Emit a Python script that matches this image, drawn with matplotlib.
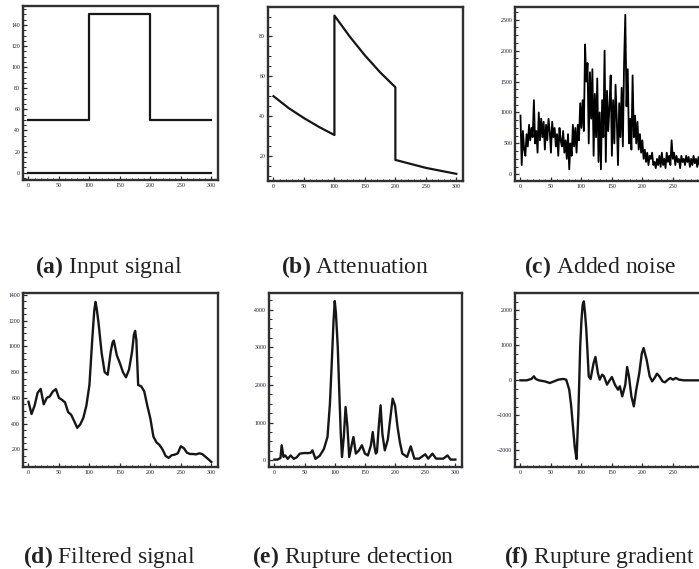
import matplotlib
matplotlib.use("Agg")
import matplotlib.pyplot as plt
from matplotlib.ticker import AutoMinorLocator, FixedLocator

# ---------------- data ----------------
x_ticks = [0, 50, 100, 150, 200, 250, 300]

# (a) input signal
a_pulse_x = [0, 100, 100, 200, 200, 300]
a_pulse_y = [50, 50, 150, 150, 50, 50]
a_base_x = [0, 300]
a_base_y = [0, 0]
a_yticks = [0, 20, 40, 60, 80, 100, 120, 140]

# (b) attenuation
b_x = [0, 25, 50, 75, 100, 100, 125, 150, 175, 200, 200, 225, 250, 275, 300]
b_y = [50, 44, 39, 34.5, 30.5, 90.5, 80, 70.5, 62, 54.5, 18, 16, 14, 12.5, 11]
b_yticks = [20, 40, 60, 80]

# (c) added noise (x = 0, 2, 4, ..., 300)
c_x = list(range(0, 301, 2))
c_y = [950, 150, 700, 400, 300, 650, 450, 800, 550, 750,
       600, 1200, 500, 700, 350, 1000, 550, 900, 600, 850,
       400, 800, 550, 900, 700, 350, 850, 600, 750, 450,
       650, 300, 750, 550, 450, 700, 350, 550, 250, 650,
       80, 500, 300, 800, 450, 750, 350, 800, 550, 1150,
       750, 1200, 700, 2100, 1500, 1800, 500, 1650, 900, 1700,
       300, 1300, 600, 1550, 200, 1000, 80, 1200, 600, 2000,
       200, 1350, 700, 1100, 1600, 300, 1200, 500, 1450, 900,
       150, 1150, 600, 1400, 450, 1800, 2580, 1100, 1700, 500,
       900, 400, 1600, 600, 950, 500, 850, 400, 650, 350,
       550, 250, 400, 200, 350, 150, 300, 250, 350, 150,
       200, 100, 250, 150, 300, 120, 350, 150, 250, 100,
       350, 200, 300, 150, 550, 250, 350, 150, 300, 200,
       250, 100, 300, 200, 250, 150, 300, 200, 280, 120,
       250, 150, 300, 180, 250, 120, 280, 150, 250, 120,
       200]
c_yticks = [0, 500, 1000, 1500, 2000, 2500]

# (d) filtered signal
d_x = [0, 5, 10, 15, 20, 25, 30, 35, 40, 45, 50, 55, 60, 65, 70, 75, 80, 85,
       90, 95, 100, 105, 108, 110, 112, 115, 120, 125, 130, 135, 138, 140, 145,
       150, 155, 160, 165, 170, 173, 175, 177, 180, 185, 190, 195, 200, 205,
       210, 215, 220, 225, 230, 235, 240, 245, 250, 255, 260, 265, 270, 275,
       280, 285, 290, 295, 300]
d_y = [570, 475, 540, 640, 670, 550, 600, 612, 650, 668, 600, 585, 565, 490,
       470, 420, 368, 395, 445, 540, 700, 1080, 1280, 1345, 1290, 1180, 950,
       800, 780, 960, 1030, 1045, 930, 870, 800, 760, 820, 960, 1090, 1120,
       1050, 700, 690, 650, 540, 440, 300, 255, 235, 200, 150, 135, 155, 160,
       170, 225, 210, 175, 165, 165, 162, 170, 165, 145, 125, 103]
d_yticks = [200, 400, 600, 800, 1000, 1200, 1400]

# (e) rupture detection
e_x = [0, 5, 10, 12, 15, 18, 22, 27, 32, 37, 42, 50, 55, 60, 63, 68, 75, 82,
       88, 92, 95, 98, 100, 102, 105, 108, 110, 112, 115, 118, 121, 124, 128,
       131, 135, 140, 145, 150, 155, 160, 163, 166, 168, 170, 173, 176, 179,
       183, 188, 192, 196, 200, 204, 208, 212, 220, 226, 232, 240, 250, 255,
       262, 268, 280, 287, 292, 300]
e_y = [20, 20, 60, 400, 90, 130, 40, 130, 40, 80, 177, 195, 190, 200, 265,
       40, 120, 300, 620, 1500, 2566, 3700, 4230, 3900, 3009, 1600, 708, 88,
       620, 1416, 900, 88, 400, 620, 180, 260, 400, 180, 130, 400, 752, 350,
       180, 220, 900, 1460, 700, 265, 550, 1100, 1637, 1450, 900, 480, 180,
       90, 372, 45, 45, 160, 45, 177, 45, 45, 130, 20, 20]
e_yticks = [0, 1000, 2000, 3000, 4000]

# (f) rupture gradient
f_x = [0, 10, 18, 22, 25, 30, 40, 48, 55, 62, 70, 75, 80, 83, 86, 89, 92, 95,
       98, 100, 102, 104, 106, 108, 110, 112, 115, 120, 123, 127, 130, 134,
       137, 142, 147, 150, 155, 160, 163, 167, 172, 175, 178, 182, 186, 190,
       195, 199, 202, 207, 212, 216, 220, 224, 228, 233, 237, 242, 246, 250,
       255, 260, 268, 280, 300]
f_y = [0, 0, 40, 115, 40, 0, -30, -76, -30, 20, 40, 20, -267, -700, -1300,
       -1900, -2248, -933, 971, 1700, 2150, 2257, 1900, 1448, 800, 114, 38,
       495, 667, 210, 20, 162, 114, -124, 20, 95, -124, -267, -170, -457, -124,
       381, 114, -457, -743, -267, 210, 762, 924, 590, 114, -29, 67, 190, 114,
       -29, -57, 20, 67, 20, 67, 20, 0, 0, 0]
f_yticks = [-2000, -1000, 0, 1000, 2000]

captions = [r"$\mathbf{(a)}$ Input signal", r"$\mathbf{(b)}$ Attenuation",
            r"$\mathbf{(c)}$ Added noise", r"$\mathbf{(d)}$ Filtered signal",
            r"$\mathbf{(e)}$ Rupture detection", r"$\mathbf{(f)}$ Rupture gradient"]

# ---------------- style ----------------
plt.rcParams["font.family"] = ["Liberation Serif", "DejaVu Serif"]
plt.rcParams["mathtext.fontset"] = "custom"
plt.rcParams["mathtext.rm"] = "Liberation Serif"
plt.rcParams["mathtext.bf"] = "Liberation Serif:bold"

W, H = 699, 569
fig = plt.figure(figsize=(W / 100, H / 100), dpi=100)
LINE = "#161616"


def add_ax(left, top, yticks, ylim, w=195, h=174):
    ax = fig.add_axes([left / W, 1 - (top + h) / H, w / W, h / H])
    ax.set_xlim(-9, 311)
    ax.set_ylim(*ylim)
    ax.xaxis.set_major_locator(FixedLocator(x_ticks))
    ax.yaxis.set_major_locator(FixedLocator(yticks))
    ax.xaxis.set_minor_locator(AutoMinorLocator(5))
    ax.yaxis.set_minor_locator(AutoMinorLocator(4))
    ax.tick_params(which="both", direction="in", labelsize=4.2, pad=2,
                   color="#2a2a2a", labelcolor="#1a1a2a")
    ax.tick_params(which="major", length=3, width=0.9)
    ax.tick_params(which="minor", length=1.8, width=0.7)
    for s in ax.spines.values():
        s.set_linewidth(1.7)
        s.set_color("#303030")
    return ax


ax = add_ax(23, 6, a_yticks, (-7, 158))
ax.plot(a_pulse_x, a_pulse_y, color=LINE, lw=1.6)
ax.plot(a_base_x, a_base_y, color=LINE, lw=1.6)

ax = add_ax(268, 7, b_yticks, (7.4, 94.8))
ax.plot(b_x, b_y, color=LINE, lw=1.6)

ax = add_ax(515, 7, c_yticks, (-108, 2706))
ax.plot(c_x, c_y, color="black", lw=1.3)

ax = add_ax(23, 293, d_yticks, (64, 1414))
ax.plot(d_x, d_y, color=LINE, lw=1.7)

ax = add_ax(269, 293, e_yticks, (-177, 4442), w=193)
ax.plot(e_x, e_y, color=LINE, lw=1.7)

ax = add_ax(515, 293, f_yticks, (-2476, 2495))
ax.plot(f_x, f_y, color=LINE, lw=1.7)

cap_pos = [(108.5, 273), (355, 273), (600, 273),
           (109, 563), (353, 563), (599, 563)]
for (cx, cy), txt in zip(cap_pos, captions):
    fig.text(cx / W, 1 - cy / H, txt, ha="center", va="baseline",
             fontsize=17, color="#222222")

fig.savefig("out.png", dpi=100)
